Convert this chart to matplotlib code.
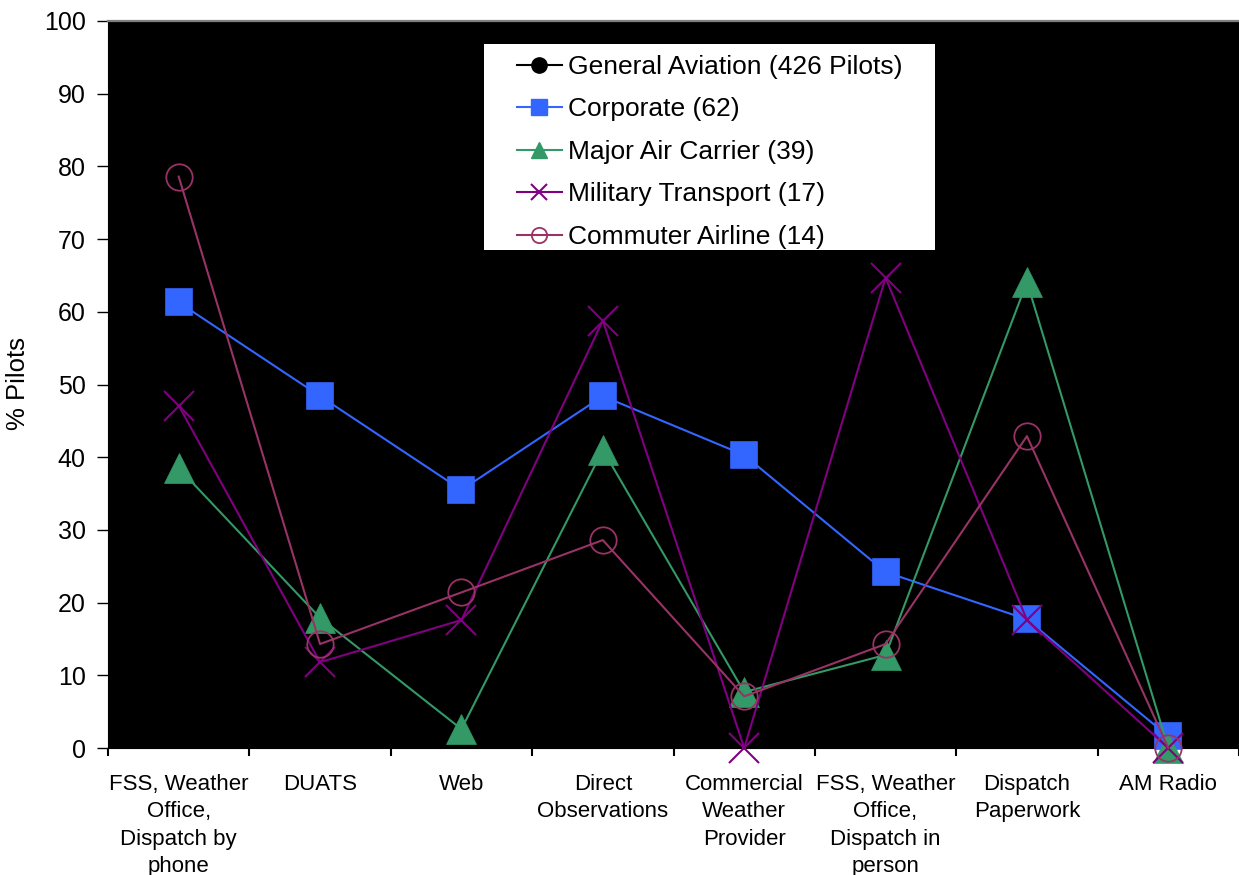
import matplotlib.pyplot as plt
from matplotlib.lines import Line2D
from matplotlib.patches import Rectangle

plt.rcParams['font.family'] = ['Liberation Sans', 'DejaVu Sans']

categories = ["FSS, Weather\nOffice,\nDispatch by\nphone", "DUATS", "Web",
              "Direct\nObservations", "Commercial\nWeather\nProvider",
              "FSS, Weather\nOffice,\nDispatch in\nperson", "Dispatch\nPaperwork",
              "AM Radio"]

# percent of pilots in each group using each source
corporate = [61.3, 48.4, 35.5, 48.4, 40.3, 24.2, 17.7, 1.6]
major_air_carrier = [38.5, 17.9, 2.6, 41.0, 7.7, 12.8, 64.1, 0.0]
military_transport = [47.1, 11.8, 17.6, 58.8, 0.0, 64.7, 17.6, 0.0]
commuter_airline = [78.6, 14.3, 21.4, 28.6, 7.1, 14.3, 42.9, 0.0]

x = list(range(len(categories)))

fig = plt.figure(figsize=(12.39, 8.75), dpi=100)
ax = fig.add_axes([108 / 1239, 127 / 875, 1131 / 1239, 727 / 875])
ax.set_facecolor('black')

ax.plot(x, corporate, color='#3366FF', lw=1.5, marker='s', ms=19, mfc='#3366FF',
        mec='#3366FF', mew=1.2, clip_on=False, zorder=3)
ax.plot(x, major_air_carrier, color='#339966', lw=1.5, marker='^', ms=21, mfc='#339966',
        mec='#339966', mew=0.5, clip_on=False, zorder=4)
ax.plot(x, military_transport, color='#800080', lw=1.5, marker='x', ms=21,
        mec='#800080', mew=1.5, clip_on=False, zorder=5)
ax.plot(x, commuter_airline, color='#993366', lw=1.5, marker='o', ms=19, mfc='none',
        mec='#993366', mew=1.3, clip_on=False, zorder=6)

ax.set_xlim(-0.5, len(categories) - 0.5)
ax.set_ylim(0, 100)
ax.set_yticks(range(0, 101, 10))
ax.tick_params(axis='y', labelsize=18, length=8, width=1, pad=8, colors='black')

ax.set_xticks(x)
ax.set_xticklabels(categories, fontsize=16, linespacing=1.38)
ax.set_xticks([i - 0.5 for i in range(len(categories) + 1)], minor=True)
ax.tick_params(axis='x', which='major', length=0, pad=19)
ax.tick_params(axis='x', which='minor', length=6, width=1.5)

fig.text(18 / 1239, 1 - 383 / 875, '% Pilots', fontsize=18.5, rotation=90,
         ha='center', va='center')

for side in ['left', 'bottom']:
    ax.spines[side].set_color('black')
ax.spines['top'].set_color('#808080')
ax.spines['top'].set_linewidth(1.6)
ax.spines['right'].set_visible(False)

# white box behind the legend entries
box = Rectangle(((484 - 108) / 1131, (748 - 250) / 727), 451 / 1131, 206 / 727,
                transform=ax.transAxes, facecolor='white', edgecolor='none', zorder=9)
ax.add_patch(box)

handles = [
    Line2D([], [], color='black', lw=1.5, marker='o', ms=11, mfc='black', mec='black'),
    Line2D([], [], color='#3366FF', lw=1.5, marker='s', ms=11, mfc='#3366FF', mec='#3366FF'),
    Line2D([], [], color='#339966', lw=1.5, marker='^', ms=12, mfc='#339966', mec='#339966'),
    Line2D([], [], color='#800080', lw=1.5, marker='x', ms=12, mec='#800080', mew=1.5),
    Line2D([], [], color='#993366', lw=1.5, marker='o', ms=11, mfc='none', mec='#993366', mew=1.3),
]
labels = ['General Aviation (426 Pilots)', 'Corporate (62)', 'Major Air Carrier (39)',
          'Military Transport (17)', 'Commuter Airline (14)']
leg = ax.legend(handles, labels, loc='upper left', bbox_to_anchor=((517 - 108) / 1131, (748 - 55) / 727),
                borderaxespad=0, fontsize=19, frameon=False,
                handlelength=1.7, handletextpad=0.25, labelspacing=0.70,
                borderpad=0)
leg.set_zorder(10)

fig.savefig('out.png', dpi=100, facecolor='white')
